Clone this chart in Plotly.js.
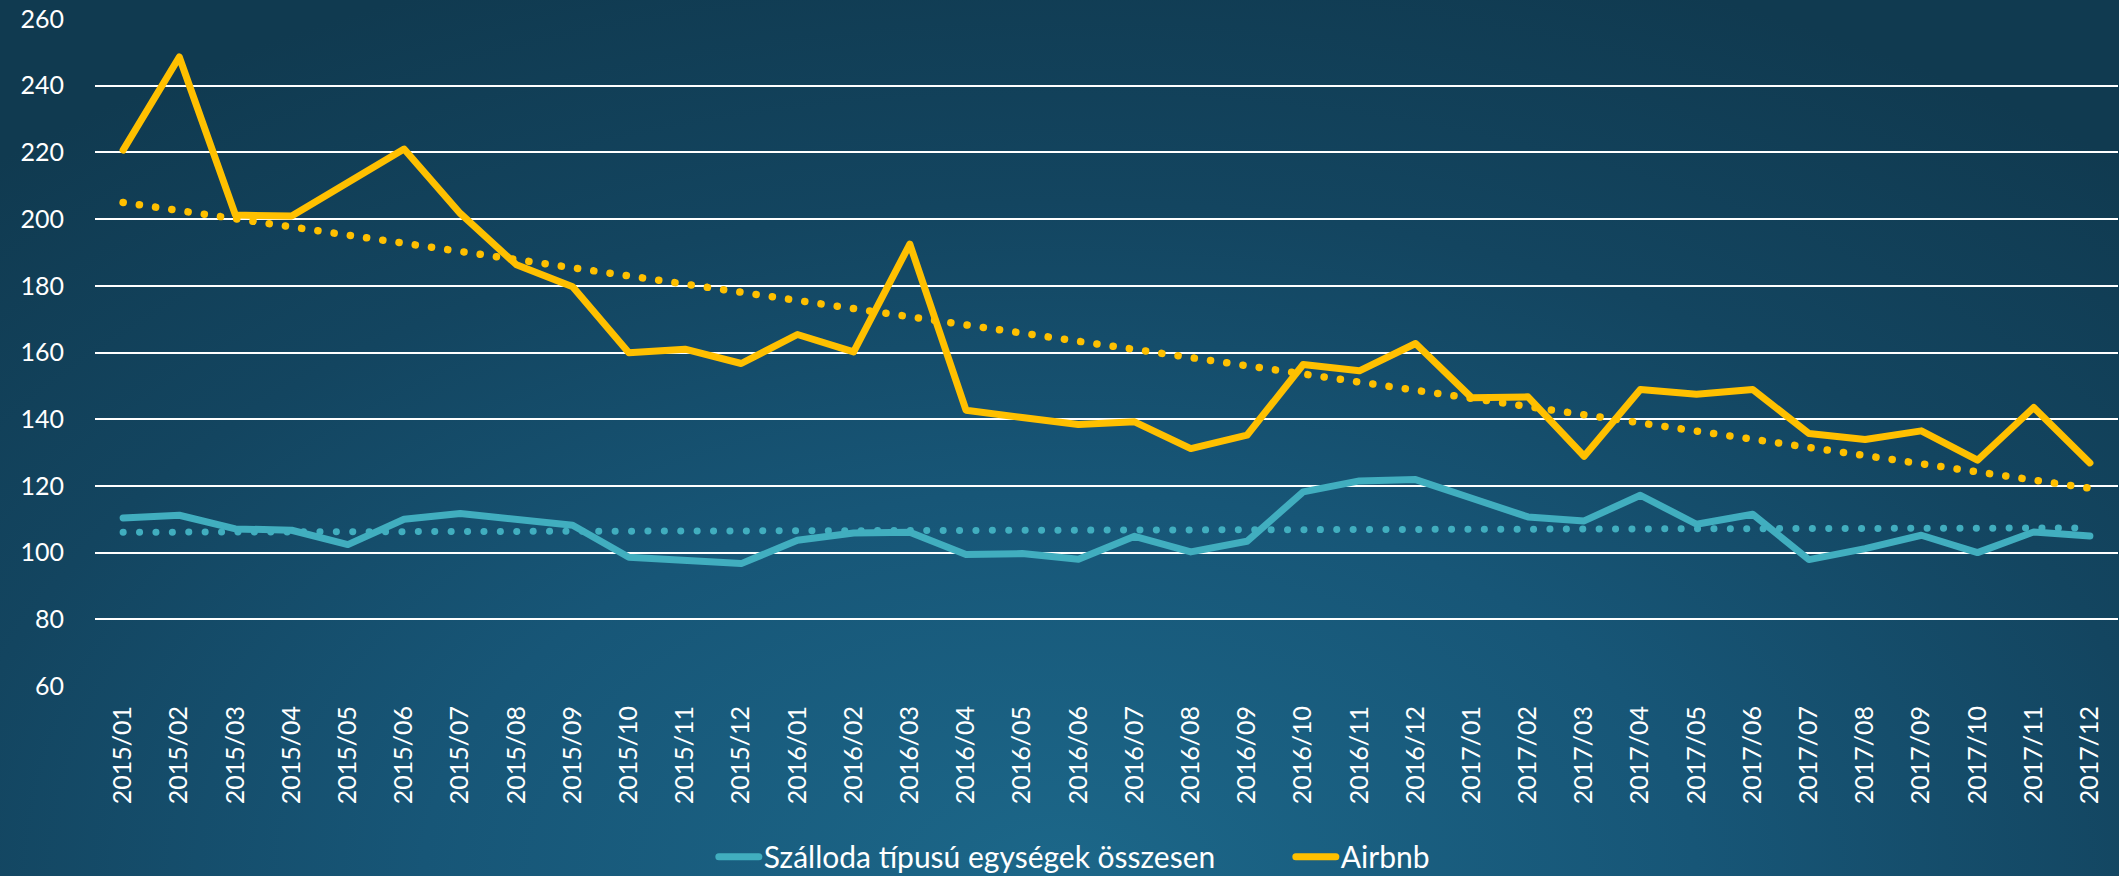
<!DOCTYPE html>
<html>
<head>
<meta charset="utf-8">
<script src="https://cdn.plot.ly/plotly-3.0.1.min.js"></script>
<style>
  html, body { margin: 0; padding: 0; width: 2119px; height: 876px; overflow: hidden; }
  body {
    background: radial-gradient(ellipse 75% 110% at 50% 100%, #1c6789 0%, #175677 40%, #134560 70%, #103a50 100%);
  }
  #chart { width: 2119px; height: 876px; }
  #chart path.js-line { stroke-linecap: round !important; stroke-linejoin: round !important; }
</style>
</head>
<body>
<div id="chart"></div>
<script>
const months = [
  '2015/01','2015/02','2015/03','2015/04','2015/05','2015/06','2015/07','2015/08','2015/09','2015/10','2015/11','2015/12',
  '2016/01','2016/02','2016/03','2016/04','2016/05','2016/06','2016/07','2016/08','2016/09','2016/10','2016/11','2016/12',
  '2017/01','2017/02','2017/03','2017/04','2017/05','2017/06','2017/07','2017/08','2017/09','2017/10','2017/11','2017/12'
];
const hotelValues = [
  110.4, 111.2, 107.1, 106.7, 102.4, 110.0, 111.7, 109.7, 108.2, 98.6, 97.9, 96.7,
  103.7, 105.9, 106.1, 99.4, 99.7, 98.0, 104.9, 100.2, 103.4, 118.2, 121.5, 121.9,
  116.3, 110.7, 109.5, 117.2, 108.5, 111.5, 97.9, 101.2, 105.2, 100.0, 106.2, 105.0
];
const airbnbValues = [
  220.7, 248.6, 201.2, 200.9, 211.0, 221.0, 201.7, 186.3, 179.7, 159.9, 161.0, 156.7,
  165.4, 160.2, 192.5, 142.7, 140.5, 138.4, 139.2, 131.2, 135.2, 156.4, 154.5, 162.7,
  146.4, 146.7, 128.9, 148.9, 147.5, 148.9, 135.7, 133.9, 136.5, 127.7, 143.5, 126.9
];
// trendline endpoints
const trendMonths = ['2015/01', '2017/12'];
const hotelTrend = [106.1, 107.4];
const airbnbTrend = [205.0, 119.3];

const yTicks = [60, 80, 100, 120, 140, 160, 180, 200, 220, 240, 260];

const hotelColor = '#41aebf';
const airbnbColor = '#ffc000';
const fontFamily = 'Lato, "Open Sans", sans-serif';

const traces = [
  { x: months, y: hotelValues, type: 'scatter', mode: 'lines', name: 'Szálloda típusú egységek összesen',
    line: { color: hotelColor, width: 7 }, legendwidth: 522, hoverinfo: 'x+y' },
  { x: months, y: airbnbValues, type: 'scatter', mode: 'lines', name: 'Airbnb',
    line: { color: airbnbColor, width: 7 }, hoverinfo: 'x+y' },
  { x: trendMonths, y: hotelTrend, type: 'scatter', mode: 'lines', showlegend: false,
    line: { color: hotelColor, width: 7, dash: '0.1px,16.3px' }, hoverinfo: 'skip' },
  { x: trendMonths, y: airbnbTrend, type: 'scatter', mode: 'lines', showlegend: false,
    line: { color: airbnbColor, width: 7.5, dash: '0.1px,16.3px' }, hoverinfo: 'skip' }
];

const layout = {
  width: 2119, height: 876,
  paper_bgcolor: 'rgba(0,0,0,0)', plot_bgcolor: 'rgba(0,0,0,0)',
  margin: { l: 95, r: 1, t: 19, b: 190, autoexpand: false },
  font: { family: fontFamily, color: '#ffffff', size: 24 },
  xaxis: {
    type: 'category', categoryorder: 'array', categoryarray: months,
    range: [-0.5, 35.5], showgrid: false, zeroline: false, showline: false,
    tickangle: -90, tickfont: { size: 25, color: '#ffffff', family: fontFamily },
    ticks: '', ticklabelstandoff: 14, fixedrange: true, automargin: false
  },
  yaxis: {
    range: [60, 260], tickvals: yTicks, ticktext: yTicks.map(String),
    showgrid: true, gridcolor: '#ffffff', gridwidth: 2, zeroline: false, showline: false,
    tickfont: { size: 25, color: '#ffffff', family: fontFamily },
    ticks: '', ticklabelstandoff: 30, fixedrange: true, automargin: false
  },
  showlegend: true,
  legend: {
    orientation: 'h', xref: 'container', yref: 'container',
    x: 0.507, xanchor: 'center', y: 0.022, yanchor: 'middle',
    font: { size: 30, color: '#ffffff', family: fontFamily },
    bgcolor: 'rgba(0,0,0,0)', itemwidth: 40, traceorder: 'normal'
  }
};

Plotly.newPlot('chart', traces, layout, { displayModeBar: false, staticPlot: true });
</script>
</body>
</html>
